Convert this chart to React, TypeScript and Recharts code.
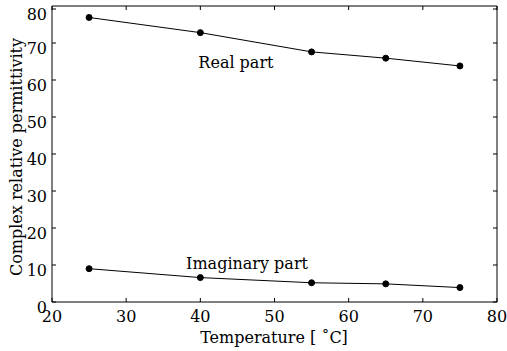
import { LineChart, Line, XAxis, YAxis, ReferenceDot, Label } from "recharts";

const temperature = [25, 40, 55, 65, 75];
const realPart = [76.9, 72.8, 67.6, 65.9, 63.8];
const imagPart = [9.0, 6.6, 5.2, 4.9, 3.9];
const xTicks = [20, 30, 40, 50, 60, 70, 80];
const yTicks = [0, 10, 20, 30, 40, 50, 60, 70, 80];

const data = temperature.map((t, i) => ({ t, re: realPart[i], im: imagPart[i] }));

const FONT = "'DejaVu Serif', serif";
const FS = 16;

const BottomTick = ({ x, y, payload }: any) => (
  <g>
    <line x1={x} x2={x} y1={y} y2={y - 4} stroke="#000" />
    <text x={x} y={y + 20} textAnchor="middle" fontFamily={FONT} fontSize={FS} fill="#000">
      {payload.value}
    </text>
  </g>
);

const TopTick = ({ x, y }: any) => <line x1={x} x2={x} y1={y} y2={y + 4} stroke="#000" />;

const LeftTick = ({ x, y, payload }: any) => (
  <g>
    <line x1={x} x2={x + 4} y1={y} y2={y} stroke="#000" />
    <text x={x - 5} y={y + 11} textAnchor="end" fontFamily={FONT} fontSize={FS} fill="#000">
      {payload.value}
    </text>
  </g>
);

const RightTick = ({ x, y }: any) => <line x1={x} x2={x - 4} y1={y} y2={y} stroke="#000" />;

export default function App() {
  return (
    <div style={{ position: "absolute", left: 0, top: 0, background: "#fff" }}>
      <LineChart width={507} height={351} data={data} margin={{ top: 5, right: 9, left: 0, bottom: 0 }}>
        <XAxis
          dataKey="t"
          type="number"
          domain={[20, 80]}
          ticks={xTicks}
          height={49}
          tickSize={0}
          tickMargin={0}
          tick={BottomTick}
          axisLine={{ stroke: "#000" }}
        >
          <Label
            content={() => (
              <text x={274} y={343} textAnchor="middle" fontFamily={FONT} fontSize={FS} fill="#000">
                Temperature [ ˚C]
              </text>
            )}
          />
        </XAxis>
        <XAxis
          xAxisId="top"
          dataKey="t"
          orientation="top"
          type="number"
          domain={[20, 80]}
          ticks={xTicks}
          height={1}
          tickSize={0}
          tickMargin={0}
          tick={TopTick}
          axisLine={{ stroke: "#000" }}
        />
        <YAxis
          type="number"
          domain={[0, 80]}
          ticks={yTicks}
          width={52}
          tickSize={0}
          tickMargin={0}
          tick={LeftTick}
          axisLine={{ stroke: "#000" }}
        >
          <Label
            content={() => (
              <text
                transform="translate(16,157) rotate(-90)"
                textAnchor="middle"
                dominantBaseline="central"
                fontFamily={FONT}
                fontSize={FS}
                fill="#000"
              >
                Complex relative permittivity
              </text>
            )}
          />
        </YAxis>
        <YAxis
          yAxisId="right"
          orientation="right"
          type="number"
          domain={[0, 80]}
          ticks={yTicks}
          width={1}
          tickSize={0}
          tickMargin={0}
          tick={RightTick}
          axisLine={{ stroke: "#000" }}
        />
        <Line
          dataKey="re"
          stroke="#000"
          strokeWidth={1}
          dot={{ r: 3, fill: "#000", stroke: "#000" }}
          isAnimationActive={false}
        />
        <Line
          xAxisId="top"
          yAxisId="right"
          dataKey="im"
          stroke="#000"
          strokeWidth={1}
          dot={{ r: 3, fill: "#000", stroke: "#000" }}
          isAnimationActive={false}
        />
        <ReferenceDot
          x={44.8}
          y={64.9}
          r={0}
          stroke="none"
          label={{ value: "Real part", position: "center", fontFamily: FONT, fontSize: FS, fill: "#000" }}
        />
        <ReferenceDot
          x={46.3}
          y={10.5}
          r={0}
          stroke="none"
          label={{ value: "Imaginary part", position: "center", fontFamily: FONT, fontSize: FS, fill: "#000" }}
        />
      </LineChart>
    </div>
  );
}
